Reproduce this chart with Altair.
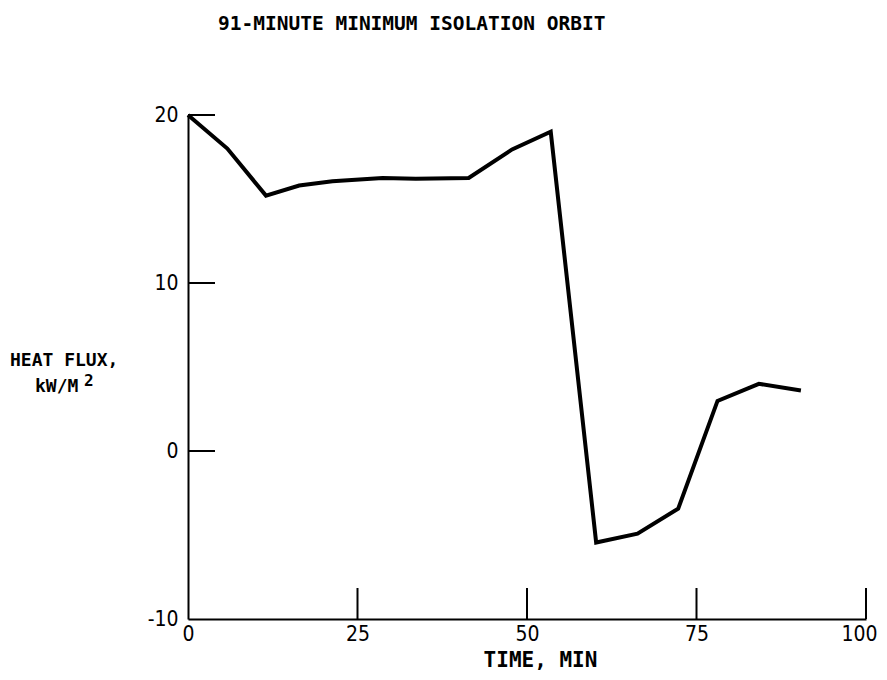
import altair as alt
import pandas as pd

# Data
time_min = [0, 5.8, 11.5, 16.4, 21.3, 28.7, 33.6, 41.4, 47.8, 53.5, 60.2, 66.3, 72.3, 78.1, 84.2, 90.4]
heat_flux = [20, 18.0, 15.2, 15.8, 16.05, 16.25, 16.2, 16.25, 17.95, 19.0, -5.45, -4.92, -3.43, 2.98, 4.0, 3.6]

x_label_values = [0, 25, 50, 75, 100]
y_label_values = [-10, 0, 10, 20]
x_tick_values = [25, 50, 75, 100]
y_tick_values = [0, 10, 20]

title_text = "91-MINUTE MINIMUM ISOLATION ORBIT"
x_title = "TIME, MIN"
y_title_1 = "HEAT FLUX,"
y_title_2 = "kW/M"
y_title_sup = "2"

MONO = "DejaVu Sans Mono"
NUM = "DejaVu Sans Condensed"

W, H = 678, 504

df = pd.DataFrame({"time": time_min, "flux": heat_flux})
xs = alt.Scale(domain=[0, 100], nice=False, zero=False)
ys = alt.Scale(domain=[-10, 20], nice=False, zero=False)

x_axis = alt.Axis(
    values=x_label_values, ticks=False, grid=False,
    domainColor="black", domainWidth=2,
    labelFont=NUM, labelFontSize=21, labelColor="black",
    labelPadding=4, labelFlush=False,
    labelOffset={"expr": "datum.value == 100 ? -7 : 0"},
    title=x_title, titleFont=MONO, titleFontSize=21, titleFontWeight="bold",
    titleColor="black", titleX=352, titleY=47, titleAlign="center",
    titleBaseline="alphabetic")
y_axis = alt.Axis(
    values=y_label_values, ticks=False, grid=False,
    domainColor="black", domainWidth=2,
    labelFont=NUM, labelFontSize=21, labelColor="black",
    labelPadding=10, labelFlush=False, title=None,
    labelExpr="replace(datum.label, '\u2212', '-')")

line = alt.Chart(df).mark_line(color="black", strokeWidth=4, strokeJoin="miter").encode(
    x=alt.X("time:Q", scale=xs, axis=x_axis),
    y=alt.Y("flux:Q", scale=ys, axis=y_axis),
)

xt = alt.Chart(pd.DataFrame({"t": x_tick_values})).mark_rule(color="black", strokeWidth=2).encode(
    x=alt.X("t:Q", scale=xs, axis=x_axis),
    y=alt.value(H), y2=alt.value(H - 31),
)
yt = alt.Chart(pd.DataFrame({"v": y_tick_values})).mark_rule(color="black", strokeWidth=2).encode(
    y=alt.Y("v:Q", scale=ys, axis=y_axis),
    x=alt.value(0), x2=alt.value(27),
)

def label(s, x, y, size):
    return alt.Chart(pd.DataFrame({"s": [s]})).mark_text(
        font=MONO, fontSize=size, fontWeight="bold", align="left",
        baseline="alphabetic", color="black"
    ).encode(x=alt.value(x), y=alt.value(y), text="s:N")

t0 = label(title_text, 30, -85, 19.5)
t1 = label(y_title_1, -178, 251, 18)
t2 = label(y_title_2, -153, 277, 18)
t3 = label(y_title_sup, -104, 271, 16)

chart = alt.layer(line, xt, yt, t0, t1, t2, t3).properties(
    width=W, height=H,
    autosize=alt.AutoSizeParams(type="none"),
    padding={"left": 180, "top": 107, "right": 13, "bottom": 53},
    background="white",
).configure_view(stroke=None)

chart.save("out.html", embed_options={"renderer": "svg", "actions": False})
